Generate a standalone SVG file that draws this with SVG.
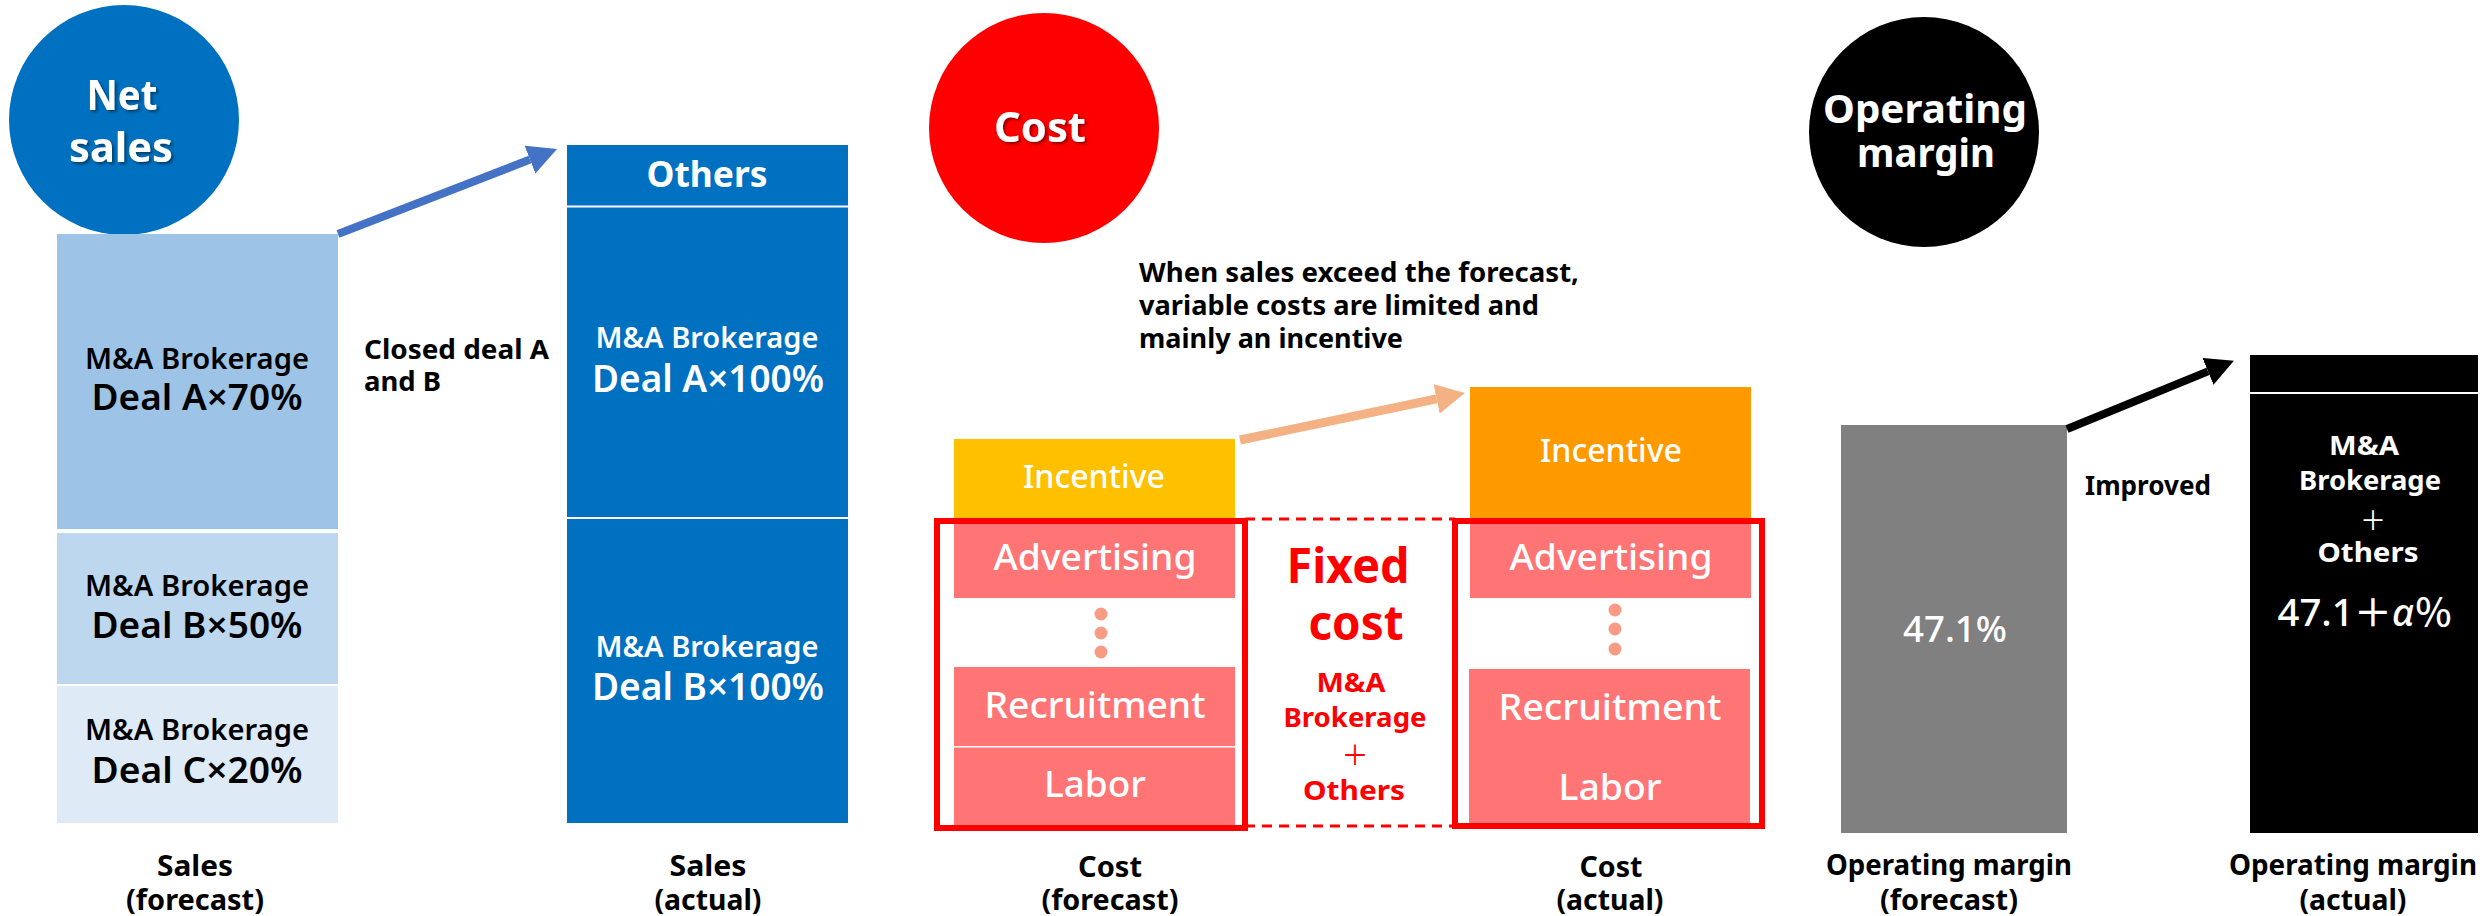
<svg xmlns="http://www.w3.org/2000/svg" width="2484" height="916" viewBox="0 0 2484 916">
  <defs>
    <style>
      text { font-family: "Noto Sans", "Noto Sans CJK JP", "Liberation Sans", sans-serif; text-anchor: middle; }
      .cjk { font-family: "Noto Sans CJK JP", "Noto Sans", sans-serif; }
      .bold { font-weight: 700; }
      .med { font-weight: 500; }
      .white { fill: #FFFFFF; }
      .dark { fill: #000000; }
      .red { fill: #FF0000; }
      .title { font-size: 42px; font-weight: 700; fill: #FFFFFF; }
      .axis { font-size: 28px; font-weight: 700; fill: #000000; }
      .brk { font-size: 29px; font-weight: 600; }
      .deal { font-size: 36px; font-weight: 600; }
      .costitem { font-size: 37px; font-weight: 500; fill: #FFFFFF; }
      .incent { font-size: 32px; font-weight: 500; fill: #FFFFFF; }
      .pink { fill: #FF7575; }
      .dot { fill: #F79B85; }
      .frame { fill: none; stroke: #FF0000; stroke-width: 6; }
      .divider { stroke: #FFFFFF; stroke-width: 2; }
    </style>
    <filter id="textShadow" x="-20%" y="-20%" width="140%" height="140%">
      <feDropShadow dx="2" dy="2" stdDeviation="1.5" flood-color="#000000" flood-opacity="0.45"/>
    </filter>
    <marker id="headBlue" markerUnits="userSpaceOnUse" viewBox="0 0 29 30" refX="0" refY="15" markerWidth="29" markerHeight="30" orient="auto">
      <path d="M0,0 L29,15 L0,30 Z" fill="#4472C4"/>
    </marker>
    <marker id="headPeach" markerUnits="userSpaceOnUse" viewBox="0 0 29 30" refX="0" refY="15" markerWidth="29" markerHeight="30" orient="auto">
      <path d="M0,0 L29,15 L0,30 Z" fill="#F4B183"/>
    </marker>
    <marker id="headBlack" markerUnits="userSpaceOnUse" viewBox="0 0 28 29" refX="0" refY="14.5" markerWidth="28" markerHeight="29" orient="auto">
      <path d="M0,0 L28,14.5 L0,29 Z" fill="#000000"/>
    </marker>
  </defs>

  <rect width="2484" height="916" fill="#FFFFFF"/>

  <!-- Net sales -->
  <g id="net-sales-title">
    <circle cx="124" cy="120" r="115" fill="#0070C0"/>
    <g filter="url(#textShadow)">
      <text class="title" x="122" y="110" textLength="71" lengthAdjust="spacingAndGlyphs">Net</text>
      <text class="title" x="121" y="162" textLength="104" lengthAdjust="spacingAndGlyphs">sales</text>
    </g>
  </g>

  <g id="sales-forecast-deal-a">
    <rect x="57" y="234" width="281" height="295" fill="#9DC3E6"/>
    <text class="brk dark" x="197" y="369" textLength="224" lengthAdjust="spacingAndGlyphs">M&amp;A Brokerage</text>
    <text class="deal dark" x="197" y="410" textLength="211" lengthAdjust="spacingAndGlyphs">Deal A×70%</text>
  </g>
  <g id="sales-forecast-deal-b">
    <rect x="57" y="533" width="281" height="151" fill="#BDD7EE"/>
    <text class="brk dark" x="197" y="596" textLength="224" lengthAdjust="spacingAndGlyphs">M&amp;A Brokerage</text>
    <text class="deal dark" x="197" y="638" textLength="211" lengthAdjust="spacingAndGlyphs">Deal B×50%</text>
  </g>
  <g id="sales-forecast-deal-c">
    <rect x="57" y="686" width="281" height="137" fill="#DEEBF7"/>
    <text class="brk dark" x="197" y="740" textLength="224" lengthAdjust="spacingAndGlyphs">M&amp;A Brokerage</text>
    <text class="deal dark" x="197" y="783" textLength="211" lengthAdjust="spacingAndGlyphs">Deal C×20%</text>
  </g>
  <g id="sales-forecast-label">
    <text class="axis" x="195" y="876" textLength="76" lengthAdjust="spacingAndGlyphs">Sales</text>
    <text class="axis" x="195" y="910" textLength="138" lengthAdjust="spacingAndGlyphs">(forecast)</text>
  </g>

  <g id="closed-deal-note">
    <text class="bold dark" x="364" y="359" style="font-size:26px; text-anchor:start" textLength="185" lengthAdjust="spacingAndGlyphs">Closed deal A</text>
    <text class="bold dark" x="364" y="391" style="font-size:26px; text-anchor:start" textLength="77" lengthAdjust="spacingAndGlyphs">and B</text>
  </g>

  <g id="sales-actual">
    <rect x="567" y="145" width="281" height="678" fill="#0070C0"/>
    <line class="divider" x1="567" y1="206.5" x2="848" y2="206.5"/>
    <line class="divider" x1="567" y1="518" x2="848" y2="518"/>
    <text class="white bold" x="707" y="187" style="font-size:36px" textLength="121" lengthAdjust="spacingAndGlyphs">Others</text>
    <text class="brk white" x="707" y="348" textLength="223" lengthAdjust="spacingAndGlyphs">M&amp;A Brokerage</text>
    <text class="deal white" x="708" y="392" style="font-size:38px" textLength="232" lengthAdjust="spacingAndGlyphs">Deal A×100%</text>
    <text class="brk white" x="707" y="657" textLength="223" lengthAdjust="spacingAndGlyphs">M&amp;A Brokerage</text>
    <text class="deal white" x="708" y="700" style="font-size:38px" textLength="232" lengthAdjust="spacingAndGlyphs">Deal B×100%</text>
  </g>
  <g id="sales-actual-label">
    <text class="axis" x="708" y="876" textLength="77" lengthAdjust="spacingAndGlyphs">Sales</text>
    <text class="axis" x="708" y="910" textLength="107" lengthAdjust="spacingAndGlyphs">(actual)</text>
  </g>

  <!-- Cost -->
  <g id="cost-title">
    <circle cx="1044" cy="128" r="115" fill="#FF0000"/>
    <text class="title" x="1040" y="142" filter="url(#textShadow)" textLength="92" lengthAdjust="spacingAndGlyphs">Cost</text>
  </g>

  <g id="incentive-note">
    <text class="bold dark" x="1139" y="282" style="font-size:27px; text-anchor:start" textLength="440" lengthAdjust="spacingAndGlyphs">When sales exceed the forecast,</text>
    <text class="bold dark" x="1139" y="315" style="font-size:27px; text-anchor:start" textLength="400" lengthAdjust="spacingAndGlyphs">variable costs are limited and</text>
    <text class="bold dark" x="1139" y="348" style="font-size:27px; text-anchor:start" textLength="264" lengthAdjust="spacingAndGlyphs">mainly an incentive</text>
  </g>

  <g id="cost-forecast">
    <rect x="954" y="439" width="281" height="79" fill="#FFC000"/>
    <text class="incent" x="1094" y="488" textLength="142" lengthAdjust="spacingAndGlyphs">Incentive</text>
    <rect class="pink" x="954" y="523" width="281" height="75"/>
    <text class="costitem" x="1095" y="570" textLength="203" lengthAdjust="spacingAndGlyphs">Advertising</text>
    <circle class="dot" cx="1101" cy="614" r="6.5"/>
    <circle class="dot" cx="1101" cy="633" r="6.5"/>
    <circle class="dot" cx="1101" cy="652" r="6.5"/>
    <rect class="pink" x="954" y="667" width="281" height="79"/>
    <text class="costitem" x="1095" y="718" textLength="221" lengthAdjust="spacingAndGlyphs">Recruitment</text>
    <rect class="pink" x="954" y="747.5" width="281" height="78.5"/>
    <text class="costitem" x="1095" y="797" textLength="102" lengthAdjust="spacingAndGlyphs">Labor</text>
    <rect class="frame" x="937" y="521" width="308" height="307"/>
  </g>
  <g id="cost-forecast-label">
    <text class="axis" x="1110" y="877" textLength="64" lengthAdjust="spacingAndGlyphs">Cost</text>
    <text class="axis" x="1110" y="910" textLength="137" lengthAdjust="spacingAndGlyphs">(forecast)</text>
  </g>

  <g id="fixed-cost">
    <line x1="1245" y1="519" x2="1455" y2="519" stroke="#FF0000" stroke-width="3" stroke-dasharray="10 7"/>
    <line x1="1245" y1="826" x2="1455" y2="826" stroke="#FF0000" stroke-width="3" stroke-dasharray="10 7"/>
    <text class="red bold" x="1348" y="583" style="font-size:48px" textLength="123" lengthAdjust="spacingAndGlyphs">Fixed</text>
    <text class="red bold" x="1356" y="640" style="font-size:48px" textLength="95" lengthAdjust="spacingAndGlyphs">cost</text>
    <text class="red bold" x="1351" y="692" style="font-size:27px" textLength="69" lengthAdjust="spacingAndGlyphs">M&amp;A</text>
    <text class="red bold" x="1355" y="727" style="font-size:27px" textLength="143" lengthAdjust="spacingAndGlyphs">Brokerage</text>
    <text class="red cjk" x="1355" y="765" style="font-size:27px">＋</text>
    <text class="red bold" x="1354" y="800" style="font-size:27px" textLength="102" lengthAdjust="spacingAndGlyphs">Others</text>
  </g>

  <g id="cost-actual">
    <rect x="1470" y="387" width="281" height="131" fill="#FF9900"/>
    <text class="incent" x="1611" y="462" textLength="142" lengthAdjust="spacingAndGlyphs">Incentive</text>
    <rect class="pink" x="1470" y="522" width="281" height="76"/>
    <text class="costitem" x="1611" y="570" textLength="203" lengthAdjust="spacingAndGlyphs">Advertising</text>
    <circle class="dot" cx="1615" cy="610" r="6.5"/>
    <circle class="dot" cx="1615" cy="629" r="6.5"/>
    <circle class="dot" cx="1615" cy="649" r="6.5"/>
    <rect class="pink" x="1469" y="669" width="281" height="156"/>
    <text class="costitem" x="1610" y="720" textLength="223" lengthAdjust="spacingAndGlyphs">Recruitment</text>
    <text class="costitem" x="1610" y="800" textLength="103" lengthAdjust="spacingAndGlyphs">Labor</text>
    <rect class="frame" x="1455" y="521" width="307" height="305"/>
  </g>
  <g id="cost-actual-label">
    <text class="axis" x="1611" y="877" textLength="63" lengthAdjust="spacingAndGlyphs">Cost</text>
    <text class="axis" x="1610" y="910" textLength="107" lengthAdjust="spacingAndGlyphs">(actual)</text>
  </g>

  <!-- Operating margin -->
  <g id="operating-margin-title">
    <circle cx="1924" cy="132" r="115" fill="#000000"/>
    <text class="title" x="1925" y="123" style="font-size:40px" textLength="204" lengthAdjust="spacingAndGlyphs">Operating</text>
    <text class="title" x="1926" y="167" style="font-size:40px" textLength="138" lengthAdjust="spacingAndGlyphs">margin</text>
  </g>

  <g id="margin-forecast">
    <rect x="1841" y="425" width="226" height="408" fill="#808080"/>
    <text class="white med" x="1955" y="642" style="font-size:37px" textLength="104" lengthAdjust="spacingAndGlyphs">47.1%</text>
  </g>
  <g id="margin-forecast-label">
    <text class="axis" x="1949" y="875" textLength="246" lengthAdjust="spacingAndGlyphs">Operating margin</text>
    <text class="axis" x="1949" y="910" textLength="138" lengthAdjust="spacingAndGlyphs">(forecast)</text>
  </g>

  <g id="improved-note">
    <text class="bold dark" x="2085" y="495" style="font-size:27px; text-anchor:start" textLength="126" lengthAdjust="spacingAndGlyphs">Improved</text>
  </g>

  <g id="margin-actual">
    <rect x="2250" y="355" width="228" height="478" fill="#000000"/>
    <line class="divider" x1="2250" y1="393" x2="2478" y2="393"/>
    <text class="white bold" x="2364" y="455" style="font-size:26px" textLength="70" lengthAdjust="spacingAndGlyphs">M&amp;A</text>
    <text class="white bold" x="2370" y="490" style="font-size:26px" textLength="142" lengthAdjust="spacingAndGlyphs">Brokerage</text>
    <text class="white cjk" x="2373" y="530" style="font-size:26px">＋</text>
    <text class="white bold" x="2368" y="562" style="font-size:26px" textLength="101" lengthAdjust="spacingAndGlyphs">Others</text>
    <text class="white med" x="2365" y="626" style="font-size:38px" textLength="175" lengthAdjust="spacingAndGlyphs">47.1<tspan class="cjk">＋</tspan><tspan font-style="italic">α</tspan><tspan class="cjk">％</tspan></text>
  </g>
  <g id="margin-actual-label">
    <text class="axis" x="2353" y="875" textLength="248" lengthAdjust="spacingAndGlyphs">Operating margin</text>
    <text class="axis" x="2353" y="910" textLength="107" lengthAdjust="spacingAndGlyphs">(actual)</text>
  </g>

  <!-- Connectors -->
  <g id="connectors" fill="none">
    <line x1="338" y1="234" x2="530" y2="159.6" stroke="#4472C4" stroke-width="8" marker-end="url(#headBlue)"/>
    <line x1="1240" y1="440" x2="1436.6" y2="398.9" stroke="#F4B183" stroke-width="9" marker-end="url(#headPeach)"/>
    <line x1="2067" y1="429" x2="2208" y2="371.4" stroke="#000000" stroke-width="8" marker-end="url(#headBlack)"/>
  </g>
</svg>
